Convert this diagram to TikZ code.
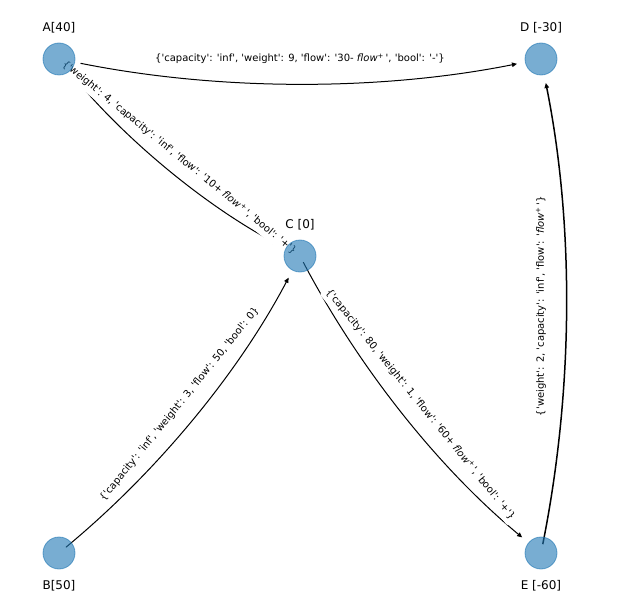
\documentclass[tikz,border=0pt]{standalone}
\usepackage{fontspec}
\setmainfont{DejaVu Sans}[Ligatures=TeXOff]
\usetikzlibrary{arrows.meta}
\pgfdeclarelayer{fg}
\pgfsetlayers{main,fg}
\definecolor{c0}{RGB}{31,119,180}
\tikzset{
  vert/.style={circle, minimum size=32bp, inner sep=0pt, fill=c0, fill opacity=0.6, draw=c0, draw opacity=0.6, line width=0.8bp},
  nlab/.style={anchor=base, font=\fontsize{12bp}{14bp}\selectfont, inner sep=0pt},
  conn/.style={draw=black, line width=1bp, -{Triangle[length=5bp,width=4.5bp]}, shorten >=24.5bp},
  elab/.style={midway, sloped, fill=white, rounded corners=3bp, inner xsep=3bp, inner ysep=3.8bp, font=\fontsize{10bp}{12bp}\selectfont, text=black},
}
\newcommand{\fl}{\textit{flow}\textsuperscript{+}}
\begin{document}
\begin{tikzpicture}[x=1bp,y=-1bp]
\fill[white] (0,0) rectangle (628,612);
\useasboundingbox (0,0) rectangle (628,612);
\begin{pgfonlayer}{fg}
\node[vert] (A) at (59,59) {};
\node[vert] (D) at (541,59) {};
\node[vert] (C) at (300,256) {};
\node[vert] (B) at (59,553) {};
\node[vert] (E) at (541,553) {};
\end{pgfonlayer}
% edges
\draw[conn, shorten <=22bp] (A.center) .. controls (219.67,91.13) and (380.33,91.13) .. (D.center);
\draw[conn, shorten <=22bp] (A.center) .. controls (126.2,140.73) and (206.53,206.4) .. (C.center);
\draw[conn, shorten <=9bp] (B.center) .. controls (159.13,470.07) and (239.47,371.07) .. (C.center);
\draw[conn, shorten <=7bp] (C.center) .. controls (360.53,371.07) and (440.87,470.07) .. (E.center);
\draw[conn, line width=1.5bp, shorten <=9bp] (E.center) .. controls (573.93,388.33) and (573.93,223.67) .. (D.center);
% edge labels
\path (A.center) -- (D.center) node[elab] (eAD) {\{'capacity': 'inf', 'weight': 9, 'flow': '30- \fl\,', 'bool': '-'\}};
\path (A.center) -- (C.center) node[elab] (eAC) {\{'weight': 4, 'capacity': 'inf', 'flow': '10+ \fl\,', 'bool': '+'\}};
\path (B.center) -- (C.center) node[elab] (eBC) {\{'capacity': 'inf', 'weight': 3, 'flow': 50, 'bool': 0\}};
\path (C.center) -- (E.center) node[elab] (eCE) {\{'capacity': 80, 'weight': 1, 'flow': '60+ \fl\,', 'bool': '+'\}};
\path (E.center) -- (D.center) node[elab] (eED) {\{'weight': 2, 'capacity': 'inf', 'flow': '\fl\,'\}};
% node labels
\node[nlab] (lA) at (59,31.5) {A[40]};
\node[nlab] (lD) at (541,31.5) {D [-30]};
\node[nlab] (lC) at (300,228.5) {C [0]};
\node[nlab] (lB) at (59,589.5) {B[50]};
\node[nlab] (lE) at (541,589.5) {E [-60]};
\end{tikzpicture}
\end{document}
